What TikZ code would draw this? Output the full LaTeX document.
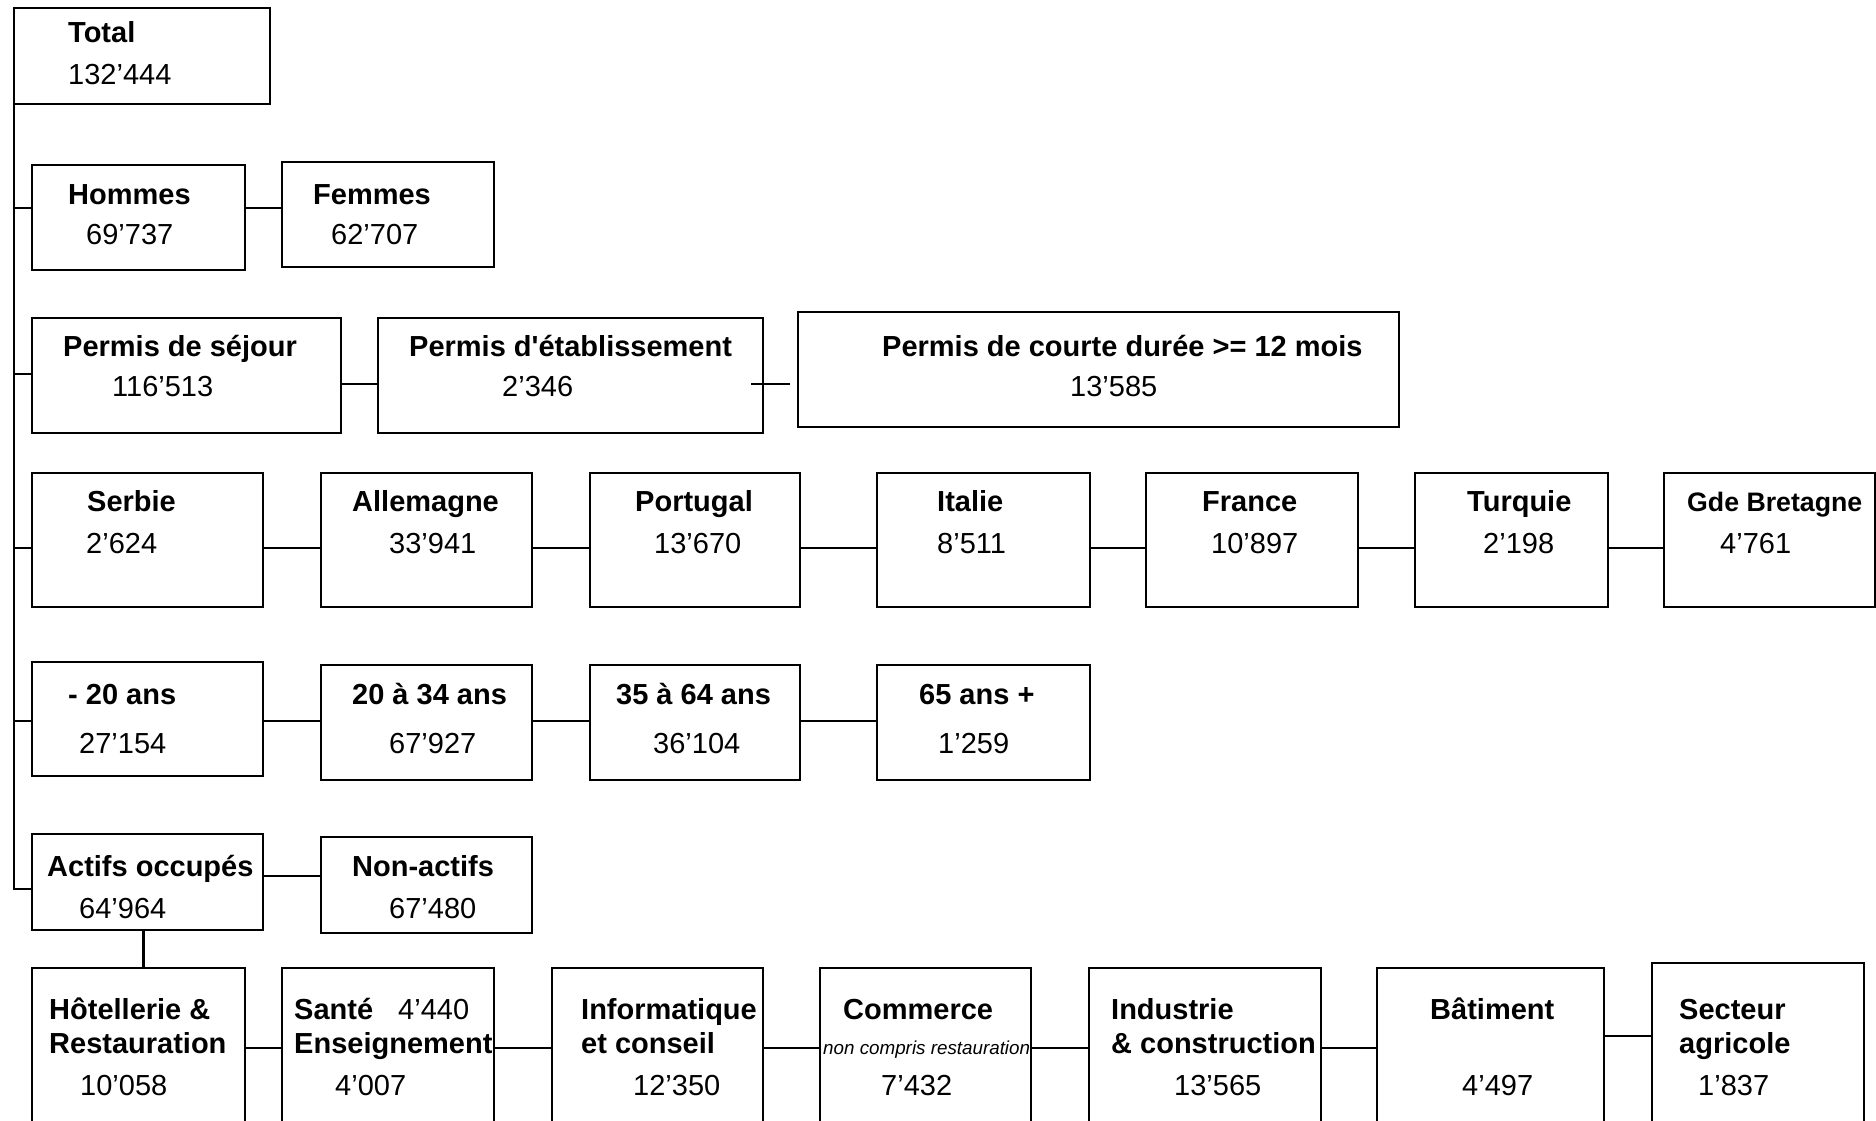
\documentclass[tikz,border=0pt]{standalone}
\usepackage{fontspec}
\setmainfont{Liberation Sans}[Ligatures=TeXOff]
\usetikzlibrary{calc}
\tikzset{
  box/.style={draw, line width=2.7pt, inner sep=0pt, outer sep=0pt},
  conn/.style={line width=2.6pt},
  ttl/.style={anchor=west, inner sep=0pt, font=\fontsize{29}{34}\selectfont\bfseries, text height=21pt, text depth=0pt},
  num/.style={anchor=west, inner sep=0pt, font=\fontsize{29}{34}\selectfont, text height=21pt, text depth=0pt},
  note/.style={anchor=west, inner sep=0pt, font=\fontsize{18.8}{22}\selectfont\itshape, text height=14pt, text depth=0pt},
}
\newcommand\mybox[5]{\node[box, minimum width={(#4-#2)*1pt}, minimum height={(#5-#3)*1pt}] (#1) at ({(#2+#4)/2},{(#3+#5)/2}) {};}
\begin{document}
\begin{tikzpicture}[x=1pt,y=-1pt]
\useasboundingbox (0,0) rectangle (1876,1121);
\fill[white] (0,0) rectangle (1876,1121);
\clip (0,0) rectangle (1876,1121);
% boxes
\mybox{total}{14}{8}{270}{104}
\mybox{hommes}{32}{165}{245}{270}
\mybox{femmes}{282}{162}{494}{267}
\mybox{sejour}{32}{318}{341}{433}
\mybox{etab}{378}{318}{763}{433}
\mybox{courte}{798}{312}{1399}{427}
\mybox{serbie}{32}{473}{263}{607}
\mybox{allemagne}{321}{473}{532}{607}
\mybox{portugal}{590}{473}{800}{607}
\mybox{italie}{877}{473}{1090}{607}
\mybox{france}{1146}{473}{1358}{607}
\mybox{turquie}{1415}{473}{1608}{607}
\mybox{gdebr}{1664}{473}{1875}{607}
\mybox{agea}{32}{662}{263}{776}
\mybox{ageb}{321}{665}{532}{780}
\mybox{agec}{590}{665}{800}{780}
\mybox{aged}{877}{665}{1090}{780}
\mybox{actifs}{32}{834}{263}{930}
\mybox{nonactifs}{321}{837}{532}{933}
\mybox{hotel}{32}{968}{245}{1140}
\mybox{sante}{282}{968}{494}{1140}
\mybox{info}{552}{968}{763}{1140}
\mybox{commerce}{820}{968}{1031}{1140}
\mybox{industrie}{1089}{968}{1321}{1140}
\mybox{batiment}{1377}{968}{1604}{1140}
\mybox{secteur}{1652}{963}{1864}{1140}
% texts
\node[ttl] (t-total) at (68,32) {Total};
\node[num] (n-total) at (68,74) {132’444};
\node[ttl] (t-hommes) at (68,194) {Hommes};
\node[num] (n-hommes) at (86,234) {69’737};
\node[ttl] (t-femmes) at (313,194) {Femmes};
\node[num] (n-femmes) at (331,234) {62’707};
\node[ttl] (t-sejour) at (63,346) {Permis de séjour};
\node[num] (n-sejour) at (112,386) {116’513};
\node[ttl] (t-etab) at (409,346) {Permis d'établissement};
\node[num] (n-etab) at (502,386) {2’346};
\node[ttl] (t-courte) at (882,346) {Permis de courte durée >= 12 mois};
\node[num] (n-courte) at (1070,386) {13’585};
\node[ttl] (t-serbie) at (87,501) {Serbie};
\node[num] (n-serbie) at (86,543) {2’624};
\node[ttl] (t-allemagne) at (352,501) {Allemagne};
\node[num] (n-allemagne) at (389,543) {33’941};
\node[ttl] (t-portugal) at (635,501) {Portugal};
\node[num] (n-portugal) at (654,543) {13’670};
\node[ttl] (t-italie) at (937,501) {Italie};
\node[num] (n-italie) at (937,543) {8’511};
\node[ttl] (t-france) at (1202,501) {France};
\node[num] (n-france) at (1211,543) {10’897};
\node[ttl] (t-turquie) at (1467,501) {Turquie};
\node[num] (n-turquie) at (1483,543) {2’198};
\node[ttl, font=\fontsize{26.7}{31}\selectfont\bfseries] (t-gdebr) at (1687,501) {Gde Bretagne};
\node[num] (n-gdebr) at (1720,543) {4’761};
\node[ttl] (t-agea) at (68,694) {- 20 ans};
\node[num] (n-agea) at (79,743) {27’154};
\node[ttl] (t-ageb) at (352,694) {20 à 34 ans};
\node[num] (n-ageb) at (389,743) {67’927};
\node[ttl] (t-agec) at (616,694) {35 à 64 ans};
\node[num] (n-agec) at (653,743) {36’104};
\node[ttl] (t-aged) at (919,694) {65 ans +};
\node[num] (n-aged) at (938,743) {1’259};
\node[ttl] (t-actifs) at (47,866) {Actifs occupés};
\node[num] (n-actifs) at (79,908) {64’964};
\node[ttl] (t-nonactifs) at (352,866) {Non-actifs};
\node[num] (n-nonactifs) at (389,908) {67’480};
\node[ttl] (t-hotel) at (49,1009) {Hôtellerie \&};
\node[ttl] (t2-hotel) at (49,1043) {Restauration};
\node[num] (n-hotel) at (80,1085) {10’058};
\node[ttl] (t-sante) at (294,1009) {Santé};
\node[num] (n2-sante) at (398,1009) {4’440};
\node[ttl] (t2-sante) at (294,1043) {Enseignement};
\node[num] (n-sante) at (335,1085) {4’007};
\node[ttl] (t-info) at (581,1009) {Informatique};
\node[ttl] (t2-info) at (581,1043) {et conseil};
\node[num] (n-info) at (633,1085) {12’350};
\node[ttl] (t-commerce) at (843,1009) {Commerce};
\node[note] (t2-commerce) at (823,1047) {non compris restauration};
\node[num] (n-commerce) at (881,1085) {7’432};
\node[ttl] (t-industrie) at (1111,1009) {Industrie};
\node[ttl] (t2-industrie) at (1111,1043) {\& construction};
\node[num] (n-industrie) at (1174,1085) {13’565};
\node[ttl] (t-batiment) at (1430,1009) {Bâtiment};
\node[num] (n-batiment) at (1462,1085) {4’497};
\node[ttl] (t-secteur) at (1679,1009) {Secteur};
\node[ttl] (t2-secteur) at (1679,1043) {agricole};
\node[num] (n-secteur) at (1698,1085) {1’837};
% connector levels
\coordinate (yH) at (0,208);
\coordinate (yS) at (0,374);
\coordinate (yS2) at (0,384);
\coordinate (yC) at (0,548);
\coordinate (yG) at (0,721);
\coordinate (yA) at (0,889);
\coordinate (yAN) at (0,876);
\coordinate (yB) at (0,1048);
\coordinate (yBS) at (0,1036);
% trunk and connectors
\draw[conn] (total.south west) |- (actifs.west |- yA);
\draw[conn] (total.south west |- yH) -- (hommes.west |- yH);
\draw[conn] (hommes.east |- yH) -- (femmes.west |- yH);
\draw[conn] (total.south west |- yS) -- (sejour.west |- yS);
\draw[conn] (sejour.east |- yS2) -- (etab.west |- yS2);
\draw[conn] ($(etab.east |- yS2)+(-12,0)$) -- ($(courte.west |- yS2)+(-8,0)$);
\draw[conn] (total.south west |- yC) -- (serbie.west |- yC);
\draw[conn] (serbie.east |- yC) -- (allemagne.west |- yC);
\draw[conn] (allemagne.east |- yC) -- (portugal.west |- yC);
\draw[conn] (portugal.east |- yC) -- (italie.west |- yC);
\draw[conn] (italie.east |- yC) -- (france.west |- yC);
\draw[conn] (france.east |- yC) -- (turquie.west |- yC);
\draw[conn] (turquie.east |- yC) -- (gdebr.west |- yC);
\draw[conn] (total.south west |- yG) -- (agea.west |- yG);
\draw[conn] (agea.east |- yG) -- (ageb.west |- yG);
\draw[conn] (ageb.east |- yG) -- (agec.west |- yG);
\draw[conn] (agec.east |- yG) -- (aged.west |- yG);
\draw[conn] (actifs.east |- yAN) -- (nonactifs.west |- yAN);
\draw[conn] ($(actifs.south)+(-4,0)$) -- ($(actifs.south |- hotel.north)+(-4,0)$);
\draw[conn] (hotel.east |- yB) -- (sante.west |- yB);
\draw[conn] (sante.east |- yB) -- (info.west |- yB);
\draw[conn] (info.east |- yB) -- (commerce.west |- yB);
\draw[conn] (commerce.east |- yB) -- (industrie.west |- yB);
\draw[conn] (industrie.east |- yB) -- (batiment.west |- yB);
\draw[conn] (batiment.east |- yBS) -- (secteur.west |- yBS);
\end{tikzpicture}
\end{document}
